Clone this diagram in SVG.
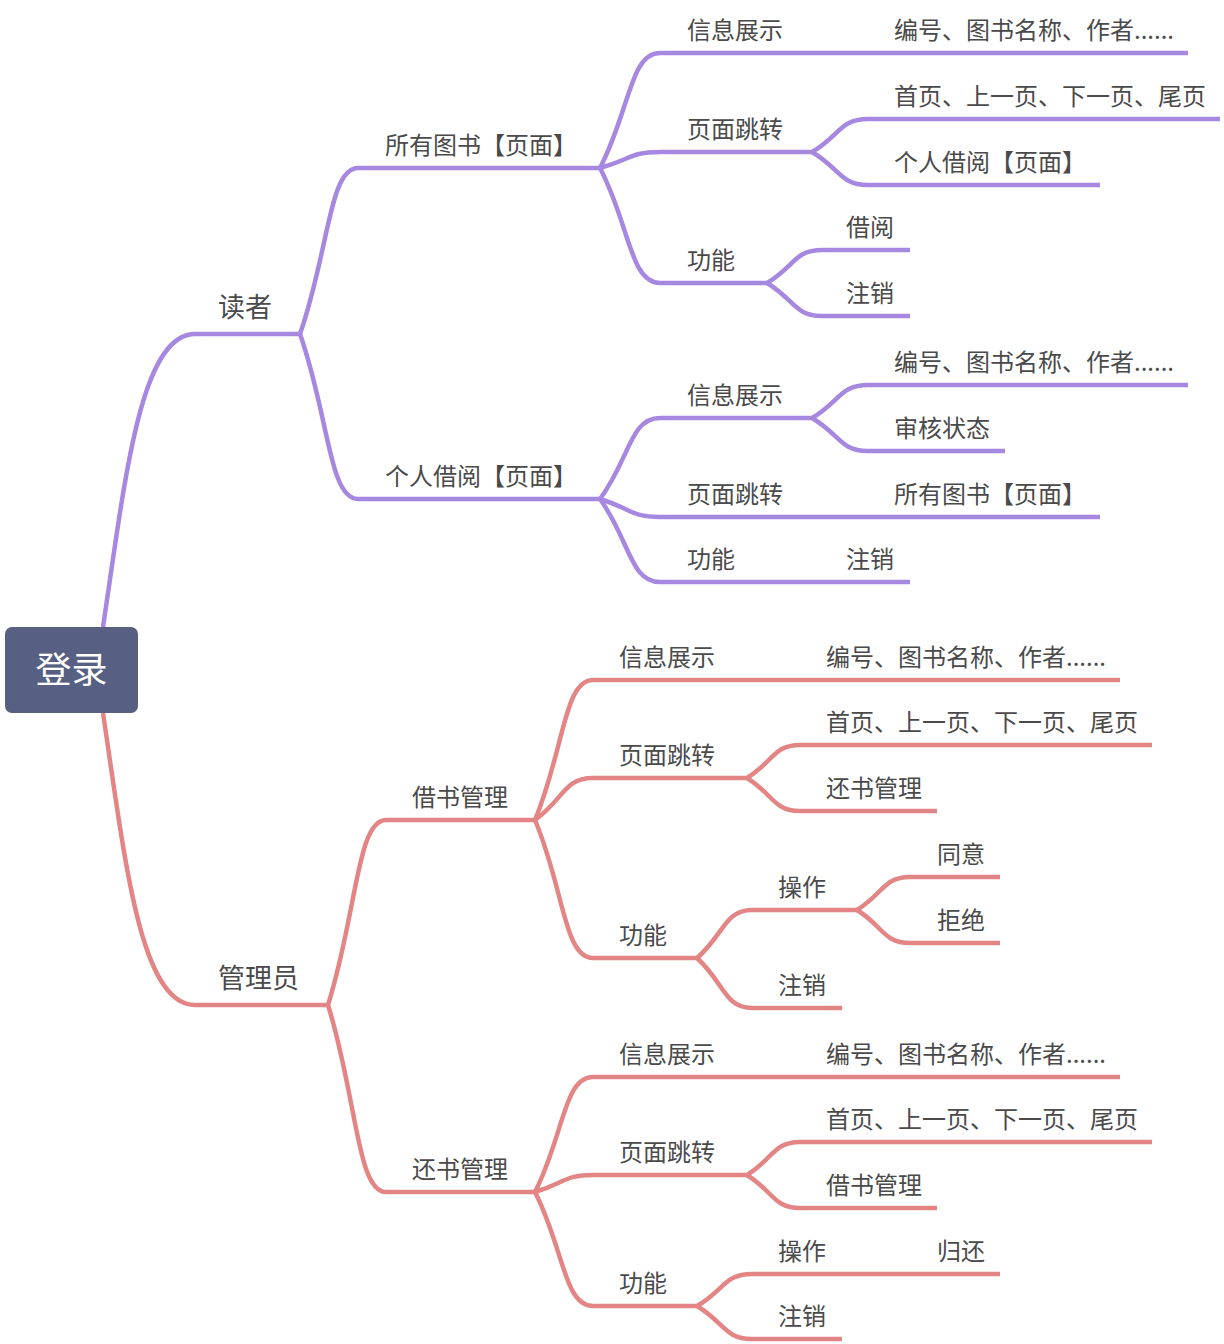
<svg xmlns="http://www.w3.org/2000/svg" width="1224" height="1344" viewBox="0 0 1224 1344">
  <style>
    .p { stroke: #a688e0; }
    .r { stroke: #e48585; }
    path, line { fill: none; stroke-width: 4.5; stroke-linecap: butt; }
    text { font-family: "Noto Sans CJK SC", "Noto Sans", sans-serif; fill: #4a4a4a; }
    .t1 { font-size: 27px; }
    .t2 { font-size: 24px; }
    .root-label { font-size: 36px; fill: #ffffff; }
  </style>
  <rect width="1224" height="1344" fill="#ffffff"/>

  <!-- connectors -->
  <g id="connectors">
    <!-- reader branch -->
    <path class="p" d="M103,627 C125,480 140,334 195,334"/>
    <path class="p" d="M300,334 C329,251 329,168 358,168"/>
    <path class="p" d="M300,334 C329,416.5 329,499 358,499"/>
    <path class="p" d="M600,168 C630,110.5 630,53 660,53"/>
    <path class="p" d="M600,168 C630,160 630,152 660,152"/>
    <path class="p" d="M600,168 C630,225.5 630,283 660,283"/>
    <path class="p" d="M798,152 H812 C840,135.5 840,119 868,119"/>
    <path class="p" d="M812,152 C840,168.5 840,185 868,185"/>
    <path class="p" d="M755,283 H767 C794.5,266.5 794.5,250 822,250"/>
    <path class="p" d="M767,283 C794.5,299.5 794.5,316 822,316"/>
    <path class="p" d="M600,499 C630,458.5 630,418 660,418"/>
    <path class="p" d="M600,499 C630,508 630,517 660,517"/>
    <path class="p" d="M600,499 C630,540.5 630,582 660,582"/>
    <path class="p" d="M798,418 H812 C840,401.5 840,385 868,385"/>
    <path class="p" d="M812,418 C840,434.5 840,451 868,451"/>
    <!-- admin branch -->
    <path class="r" d="M103,713 C125,860 140,1005 195,1005"/>
    <path class="r" d="M328,1005 C357,912.5 357,820 386,820"/>
    <path class="r" d="M328,1005 C357,1098.5 357,1192 386,1192"/>
    <path class="r" d="M535,820 C564,750 564,680 593,680"/>
    <path class="r" d="M535,820 C564,799 564,778 593,778"/>
    <path class="r" d="M535,820 C564,889 564,958 593,958"/>
    <path class="r" d="M733,778 H747 C773.5,761.5 773.5,745 800,745"/>
    <path class="r" d="M747,778 C773.5,794.5 773.5,811 800,811"/>
    <path class="r" d="M683,958 H697 C724.5,934 724.5,910 752,910"/>
    <path class="r" d="M697,958 C724.5,983 724.5,1008 752,1008"/>
    <path class="r" d="M842,910 H857 C883.5,893.5 883.5,877 910,877"/>
    <path class="r" d="M857,910 C883.5,926.5 883.5,943 910,943"/>
    <path class="r" d="M535,1192 C564,1134.5 564,1077 593,1077"/>
    <path class="r" d="M535,1192 C564,1183.5 564,1175 593,1175"/>
    <path class="r" d="M535,1192 C564,1249 564,1306 593,1306"/>
    <path class="r" d="M733,1175 H747 C773.5,1158.5 773.5,1142 800,1142"/>
    <path class="r" d="M747,1175 C773.5,1191.5 773.5,1208 800,1208"/>
    <path class="r" d="M683,1306 H697 C724.5,1290 724.5,1274 752,1274"/>
    <path class="r" d="M697,1306 C724.5,1322.5 724.5,1339 752,1339"/>
  </g>

  <!-- root -->
  <g id="root">
    <rect x="5" y="627" width="133" height="86" rx="7" fill="#575f82"/>
    <text class="root-label" x="71.5" y="683" text-anchor="middle">登录</text>
  </g>

  <!-- reader -->
  <g id="reader"><line class="p" x1="195" y1="334" x2="300" y2="334"/><text class="t1" x="218" y="317">读者</text></g>
  <g id="r-allbooks"><line class="p" x1="358" y1="168" x2="600" y2="168"/><text class="t2" x="385" y="154">所有图书【页面】</text></g>
  <g id="r-allbooks-info"><line class="p" x1="660" y1="53" x2="800" y2="53"/><text class="t2" x="687" y="39">信息展示</text></g>
  <g id="r-allbooks-info-fields"><line class="p" x1="800" y1="53" x2="1188" y2="53"/><text class="t2" x="894" y="39">编号、图书名称、作者......</text></g>
  <g id="r-allbooks-nav"><line class="p" x1="660" y1="152" x2="798" y2="152"/><text class="t2" x="687" y="138">页面跳转</text></g>
  <g id="r-allbooks-nav-pages"><line class="p" x1="868" y1="119" x2="1220" y2="119"/><text class="t2" x="894" y="105">首页、上一页、下一页、尾页</text></g>
  <g id="r-allbooks-nav-mine"><line class="p" x1="868" y1="185" x2="1100" y2="185"/><text class="t2" x="894" y="171">个人借阅【页面】</text></g>
  <g id="r-allbooks-func"><line class="p" x1="660" y1="283" x2="755" y2="283"/><text class="t2" x="687" y="269">功能</text></g>
  <g id="r-allbooks-func-borrow"><line class="p" x1="822" y1="250" x2="910" y2="250"/><text class="t2" x="846" y="236">借阅</text></g>
  <g id="r-allbooks-func-logout"><line class="p" x1="822" y1="316" x2="910" y2="316"/><text class="t2" x="846" y="302">注销</text></g>

  <g id="r-mine"><line class="p" x1="358" y1="499" x2="600" y2="499"/><text class="t2" x="385" y="485">个人借阅【页面】</text></g>
  <g id="r-mine-info"><line class="p" x1="660" y1="418" x2="798" y2="418"/><text class="t2" x="687" y="404">信息展示</text></g>
  <g id="r-mine-info-fields"><line class="p" x1="868" y1="385" x2="1188" y2="385"/><text class="t2" x="894" y="371">编号、图书名称、作者......</text></g>
  <g id="r-mine-info-status"><line class="p" x1="868" y1="451" x2="1005" y2="451"/><text class="t2" x="894" y="437">审核状态</text></g>
  <g id="r-mine-nav"><line class="p" x1="660" y1="517" x2="800" y2="517"/><text class="t2" x="687" y="503">页面跳转</text></g>
  <g id="r-mine-nav-all"><line class="p" x1="800" y1="517" x2="1100" y2="517"/><text class="t2" x="894" y="503">所有图书【页面】</text></g>
  <g id="r-mine-func"><line class="p" x1="660" y1="582" x2="800" y2="582"/><text class="t2" x="687" y="568">功能</text></g>
  <g id="r-mine-func-logout"><line class="p" x1="800" y1="582" x2="910" y2="582"/><text class="t2" x="846" y="568">注销</text></g>

  <!-- admin -->
  <g id="admin"><line class="r" x1="195" y1="1005" x2="328" y2="1005"/><text class="t1" x="218" y="988">管理员</text></g>
  <g id="a-lend"><line class="r" x1="386" y1="820" x2="535" y2="820"/><text class="t2" x="412" y="806">借书管理</text></g>
  <g id="a-lend-info"><line class="r" x1="593" y1="680" x2="733" y2="680"/><text class="t2" x="619" y="666">信息展示</text></g>
  <g id="a-lend-info-fields"><line class="r" x1="733" y1="680" x2="1120" y2="680"/><text class="t2" x="826" y="666">编号、图书名称、作者......</text></g>
  <g id="a-lend-nav"><line class="r" x1="593" y1="778" x2="733" y2="778"/><text class="t2" x="619" y="764">页面跳转</text></g>
  <g id="a-lend-nav-pages"><line class="r" x1="800" y1="745" x2="1152" y2="745"/><text class="t2" x="826" y="731">首页、上一页、下一页、尾页</text></g>
  <g id="a-lend-nav-return"><line class="r" x1="800" y1="811" x2="937" y2="811"/><text class="t2" x="826" y="797">还书管理</text></g>
  <g id="a-lend-func"><line class="r" x1="593" y1="958" x2="683" y2="958"/><text class="t2" x="619" y="944">功能</text></g>
  <g id="a-lend-func-op"><line class="r" x1="752" y1="910" x2="842" y2="910"/><text class="t2" x="778" y="896">操作</text></g>
  <g id="a-lend-func-op-agree"><line class="r" x1="910" y1="877" x2="1000" y2="877"/><text class="t2" x="937" y="863">同意</text></g>
  <g id="a-lend-func-op-reject"><line class="r" x1="910" y1="943" x2="1000" y2="943"/><text class="t2" x="937" y="929">拒绝</text></g>
  <g id="a-lend-func-logout"><line class="r" x1="752" y1="1008" x2="842" y2="1008"/><text class="t2" x="778" y="994">注销</text></g>

  <g id="a-return"><line class="r" x1="386" y1="1192" x2="535" y2="1192"/><text class="t2" x="412" y="1178">还书管理</text></g>
  <g id="a-return-info"><line class="r" x1="593" y1="1077" x2="733" y2="1077"/><text class="t2" x="619" y="1063">信息展示</text></g>
  <g id="a-return-info-fields"><line class="r" x1="733" y1="1077" x2="1120" y2="1077"/><text class="t2" x="826" y="1063">编号、图书名称、作者......</text></g>
  <g id="a-return-nav"><line class="r" x1="593" y1="1175" x2="733" y2="1175"/><text class="t2" x="619" y="1161">页面跳转</text></g>
  <g id="a-return-nav-pages"><line class="r" x1="800" y1="1142" x2="1152" y2="1142"/><text class="t2" x="826" y="1128">首页、上一页、下一页、尾页</text></g>
  <g id="a-return-nav-lend"><line class="r" x1="800" y1="1208" x2="937" y2="1208"/><text class="t2" x="826" y="1194">借书管理</text></g>
  <g id="a-return-func"><line class="r" x1="593" y1="1306" x2="683" y2="1306"/><text class="t2" x="619" y="1292">功能</text></g>
  <g id="a-return-func-op"><line class="r" x1="752" y1="1274" x2="842" y2="1274"/><text class="t2" x="778" y="1260">操作</text></g>
  <g id="a-return-func-op-back"><line class="r" x1="842" y1="1274" x2="1000" y2="1274"/><text class="t2" x="937" y="1260">归还</text></g>
  <g id="a-return-func-logout"><line class="r" x1="752" y1="1339" x2="842" y2="1339"/><text class="t2" x="778" y="1325">注销</text></g>
</svg>
